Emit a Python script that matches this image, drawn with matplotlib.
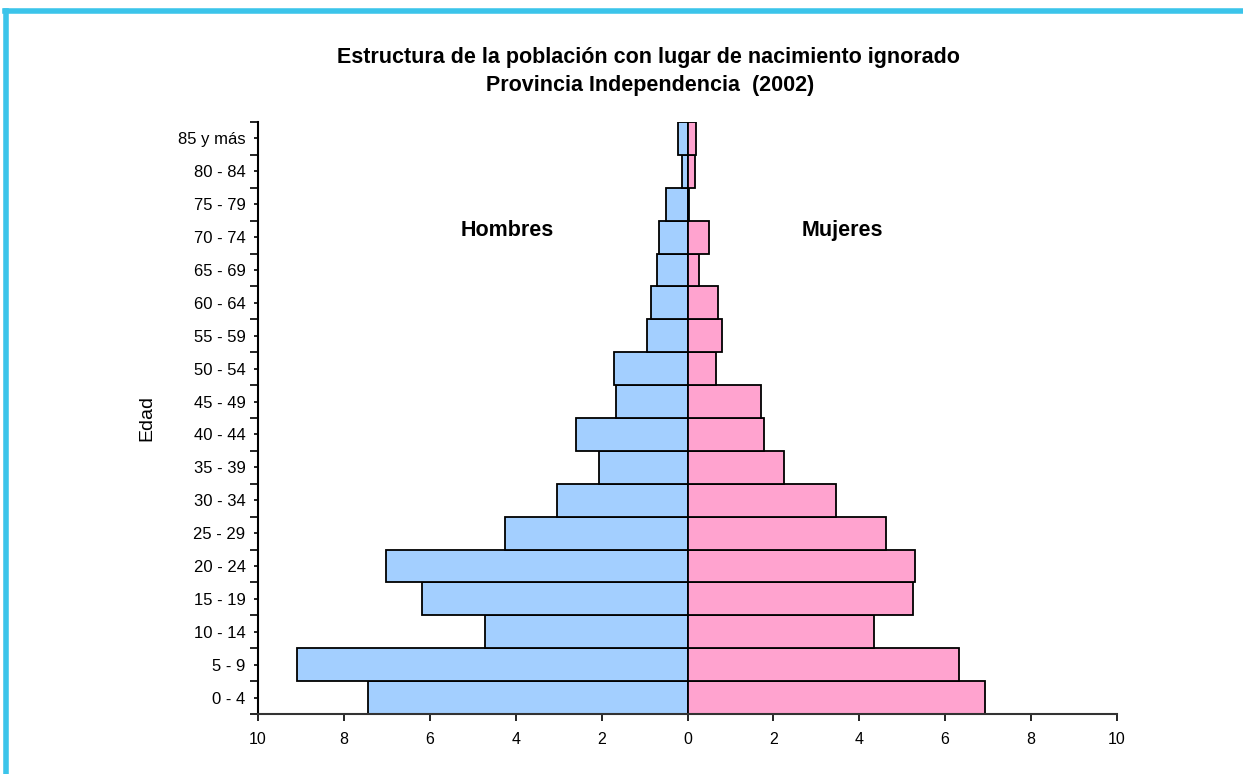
import numpy as np
import matplotlib.pyplot as plt
from matplotlib.lines import Line2D
from matplotlib.ticker import FixedLocator, FuncFormatter

grupos = ['0 - 4', '5 - 9', '10 - 14', '15 - 19', '20 - 24', '25 - 29', '30 - 34',
          '35 - 39', '40 - 44', '45 - 49', '50 - 54', '55 - 59', '60 - 64',
          '65 - 69', '70 - 74', '75 - 79', '80 - 84', '85 y más']
hombres = [7.44, 9.09, 4.71, 6.18, 7.03, 4.25, 3.04, 2.06, 2.60, 1.66, 1.70,
           0.94, 0.84, 0.71, 0.67, 0.49, 0.13, 0.23]
mujeres = [6.93, 6.33, 4.35, 5.26, 5.30, 4.63, 3.46, 2.25, 1.79, 1.71, 0.67,
           0.81, 0.72, 0.27, 0.50, 0.03, 0.18, 0.19]

plt.rcParams['font.family'] = ['Liberation Sans', 'DejaVu Sans']

fig = plt.figure(figsize=(12.43, 7.74), dpi=100)
ax = fig.add_axes([0.2076, 0.0775, 0.691, 0.7649])

y = np.arange(len(grupos))
ax.barh(y, -np.array(hombres), height=1.0, color='#A3CFFF', edgecolor='black', linewidth=1.3)
ax.barh(y, mujeres, height=1.0, color='#FFA3CF', edgecolor='black', linewidth=1.3)

ax.set_xlim(-10, 10)
ax.set_ylim(-0.5, len(grupos) - 0.5)
ax.set_xticks(np.arange(-10, 11, 2))
ax.xaxis.set_major_formatter(FuncFormatter(lambda v, p: f'{abs(v):.0f}'))
ax.set_yticks(y)
ax.set_yticklabels(grupos)
ax.yaxis.set_minor_locator(FixedLocator(np.arange(-0.5, len(grupos), 1)))
ax.tick_params(axis='y', which='major', length=3, width=1.2, labelsize=12, pad=6)
ax.tick_params(axis='y', which='minor', length=6, width=1.2)
ax.tick_params(axis='x', length=5, width=1.2, labelsize=11.5, pad=8)

for s in ['top', 'right']:
    ax.spines[s].set_visible(False)
ax.spines['left'].set_linewidth(1.5)
ax.spines['bottom'].set_linewidth(1.5)
ax.spines['bottom'].set_color('#333333')

ax.set_ylabel('Edad', fontsize=14, labelpad=16)

ax.text(-4.2, 14.2, 'Hombres', fontsize=15.5, fontweight='bold', ha='center', va='center')
ax.text(3.6, 14.2, 'Mujeres', fontsize=15.5, fontweight='bold', ha='center', va='center')

fig.text(0.522, 0.926, 'Estructura de la población con lugar de nacimiento ignorado',
         fontsize=15.5, fontweight='bold', ha='center', va='center')
fig.text(0.523, 0.889, 'Provincia Independencia  (2002)',
         fontsize=15.5, fontweight='bold', ha='center', va='center')

# marco cian
fig.add_artist(Line2D([0.004, 1.0], [0.986, 0.986], transform=fig.transFigure,
                      color='#3BC4EA', linewidth=4))
fig.add_artist(Line2D([0.005, 0.005], [0.0, 0.986], transform=fig.transFigure,
                      color='#3BC4EA', linewidth=4))

fig.savefig('out.png', dpi=100)
